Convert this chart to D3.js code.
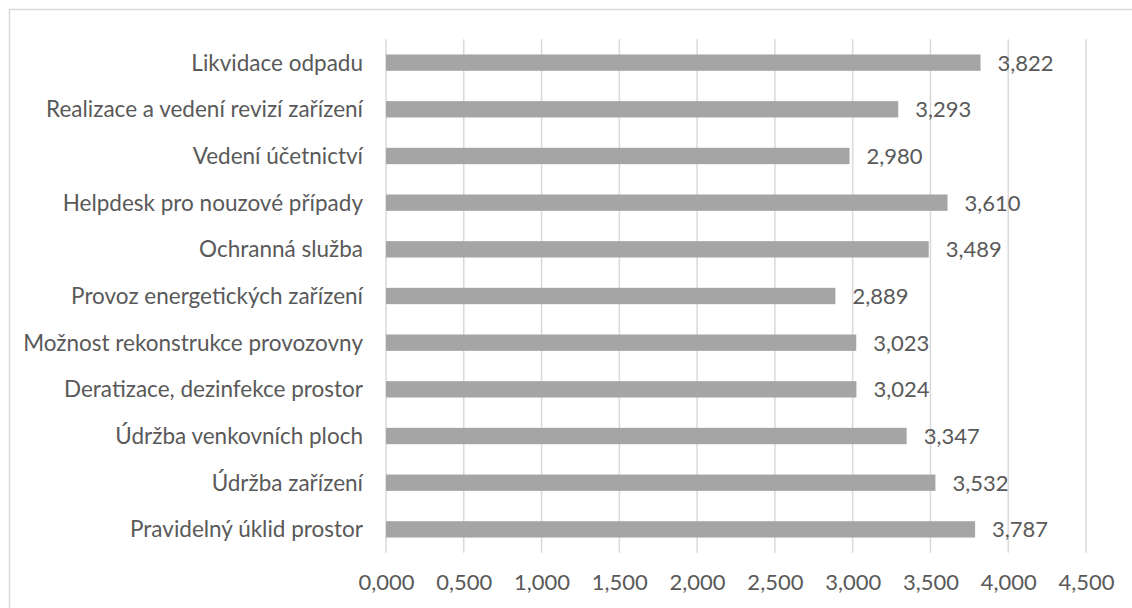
<!DOCTYPE html>
<html>
<head>
<meta charset="utf-8">
<script src="https://cdn.jsdelivr.net/npm/d3@7"></script>
<style>
  html, body { margin: 0; padding: 0; background: #ffffff; }
  svg { display: block; }
  text { font-family: Lato, "Open Sans", sans-serif; fill: #595959; }
</style>
</head>
<body>
<svg id="chart" width="1132" height="608"></svg>
<script>
// Service categories, top to bottom
const categories = [
  "Likvidace odpadu",
  "Realizace a vedení revizí zařízení",
  "Vedení účetnictví",
  "Helpdesk pro nouzové případy",
  "Ochranná služba",
  "Provoz energetických zařízení",
  "Možnost rekonstrukce provozovny",
  "Deratizace, dezinfekce prostor",
  "Údržba venkovních ploch",
  "Údržba zařízení",
  "Pravidelný úklid prostor"
];

// Average rating per category
const values = [3.822, 3.293, 2.980, 3.610, 3.489, 2.889, 3.023, 3.024, 3.347, 3.532, 3.787];

// X-axis ticks
const xTicks = [0, 0.5, 1, 1.5, 2, 2.5, 3, 3.5, 4, 4.5];

const svg = d3.select("#chart");
const plot = { left: 386, right: 1086, top: 39.3, bottom: 552.7 };

const fmt = v => d3.format(".3f")(v).replace(".", ",");

// Chart area frame
svg.append("rect")
  .attr("x", 9.5).attr("y", 9.5)
  .attr("width", 1140).attr("height", 640)
  .attr("fill", "none")
  .attr("stroke", "#d9d9d9")
  .attr("stroke-width", 1.5);

const x = d3.scaleLinear().domain([0, 4.5]).range([plot.left, plot.right]);
const y = d3.scaleBand().domain(categories).range([plot.top, plot.bottom]).paddingInner(0.65).paddingOuter(0.325);

// Vertical gridlines
svg.append("g")
  .selectAll("line")
  .data(xTicks)
  .join("line")
  .attr("x1", d => x(d)).attr("x2", d => x(d))
  .attr("y1", plot.top).attr("y2", plot.bottom)
  .attr("stroke", "#d9d9d9")
  .attr("stroke-width", 1.5);

// X-axis labels
const xAxis = d3.axisBottom(x).tickValues(xTicks).tickFormat(fmt).tickSize(0).tickPadding(0);
const gx = svg.append("g").attr("transform", `translate(0, ${plot.bottom + 22})`).call(xAxis);
gx.select(".domain").remove();
gx.selectAll("text")
  .attr("font-size", 22)
  .attr("fill", "#595959")
  .attr("font-family", "Lato, 'Open Sans', sans-serif");

// Category labels
const yAxis = d3.axisLeft(y).tickSize(0).tickPadding(23);
const gy = svg.append("g").attr("transform", `translate(${plot.left}, 0)`).call(yAxis);
gy.select(".domain").remove();
gy.selectAll("text")
  .attr("font-size", 22.5)
  .attr("fill", "#595959")
  .attr("dy", "0.36em")
  .attr("font-family", "Lato, 'Open Sans', sans-serif");

// Bars
svg.append("g")
  .selectAll("rect")
  .data(values)
  .join("rect")
  .attr("x", x(0))
  .attr("y", (d, i) => y(categories[i]))
  .attr("width", d => x(d) - x(0))
  .attr("height", y.bandwidth())
  .attr("fill", "#a5a5a5");

// Value labels
svg.append("g")
  .selectAll("text")
  .data(values)
  .join("text")
  .attr("x", d => x(d) + 17)
  .attr("y", (d, i) => y(categories[i]) + y.bandwidth() / 2)
  .attr("dy", "0.36em")
  .attr("font-size", 22)
  .text(d => fmt(d));
</script>
</body>
</html>
